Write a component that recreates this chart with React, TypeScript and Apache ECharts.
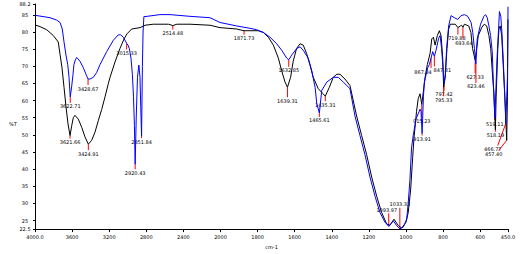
import { useEffect, useRef } from "react";
import * as echarts from "echarts";

// Wavenumbers (cm-1) and %T
const blueWn = [4000,3838,3766,3730,3706,3687,3666,3647,3633,3627,3620,3605,3590,3580,3565,3550,3515,3479,3443,3428,3407,3371,3335,3299,3227,3156,3102,3076,3048,3019,3012,2997,2983,2965,2950,2938,2928,2920,2908,2895,2880,2868,2860,2851,2842,2835,2826,2792,2652,2544,2329,2113,2005,1913,1841,1805,1769,1733,1697,1670,1643,1632,1616,1589,1571,1554,1527,1508,1490,1481,1467,1454,1427,1392,1365,1338,1302,1275,1248,1221,1194,1167,1140,1113,1093,1068,1050,1033,1014,996,988,979,970,961,946,924,919,913,906,901,883,874,865,856,847,838,824,816,808,799,795,788,781,770,757,739,721,703,685,667,649,640,631,623,616,598,580,571,562,553,544,535,528,521,509,496,489,483,476,465,462,453,450];
const blueT = [84.9,84.2,83.5,82.8,80.9,77.1,73.3,70.5,66.8,64.0,61.1,64.0,67.7,70.5,71.9,72.6,71.5,69.6,67.2,66.3,66.3,66.8,68.2,70.5,74.3,77.6,79.2,79.2,78.5,77.1,76.7,76.2,75.2,72.4,67.7,61.1,52.7,41.4,55.5,66.8,70.4,66.8,58.3,49.6,70.0,80.0,84.5,84.6,85.1,85.1,84.6,84.2,82.8,81.8,81.1,80.7,79.9,78.5,76.6,74.7,72.4,71.9,73.3,75.2,75.7,74.7,72.4,68.7,63.9,59.2,56.4,63.0,65.4,66.8,66.8,65.4,63.5,55.5,49.8,44.2,37.7,32.1,27.3,24.5,23.3,24.9,23.5,22.6,23.1,25.4,30.1,36.7,46.2,49.8,54.6,57.5,56.9,50.4,61.1,65.4,69.6,70.5,72.4,74.3,72.9,74.7,78.2,79.0,75.2,68.7,64.9,66.8,75.2,81.8,84.8,84.2,83.7,84.8,85.1,84.6,82.8,79.9,75.2,70.7,78.0,82.3,84.6,85.1,84.2,81.8,79.0,74.3,63.9,54.9,72.4,86.0,84.6,80.0,72.4,58.3,53.3,66.8,87.4];

const blackWn = [4000,3946,3874,3803,3749,3730,3709,3687,3666,3644,3622,3604,3587,3569,3533,3496,3461,3425,3389,3353,3318,3281,3245,3210,3191,3137,3084,3040,3008,2957,2868,2814,2724,2560,2514,2470,2329,2113,2005,1913,1873,1841,1797,1769,1742,1715,1688,1670,1652,1639,1622,1608,1590,1571,1554,1536,1518,1500,1473,1449,1435,1413,1392,1373,1356,1329,1302,1266,1239,1212,1185,1158,1131,1104,1086,1065,1041,1023,1000,988,975,964,957,943,934,924,915,907,897,885,870,861,852,843,831,820,811,802,797,788,779,770,761,734,720,707,700,693,685,662,650,641,627,619,610,592,578,565,553,543,535,526,518,514,505,499,492,484,476,467,457,453,450];
const blackT = [82.1,81.6,80.7,79.0,77.1,73.5,69.6,63.9,58.3,53.2,49.8,52.7,55.0,55.7,54.6,52.2,49.4,47.3,48.4,50.8,54.1,57.4,61.1,64.9,66.8,71.3,75.2,78.0,79.5,80.9,81.3,82.0,82.3,82.3,81.9,82.3,82.3,82.0,81.3,80.9,80.4,80.4,80.4,79.9,78.5,76.2,72.4,68.7,65.4,63.9,66.8,71.5,75.2,76.6,76.2,73.8,70.5,66.8,63.5,62.1,61.3,63.9,66.8,67.7,67.7,66.3,64.4,55.5,49.8,44.2,37.7,32.1,27.3,24.0,23.6,25.4,23.5,22.8,24.5,27.3,33.9,43.4,49.0,56.9,60.6,62.0,58.9,62.3,66.8,70.5,73.8,78.0,78.5,76.2,79.0,80.4,79.0,72.4,63.9,67.7,75.2,80.9,82.3,82.3,81.3,81.8,82.0,81.4,82.3,81.8,79.9,75.2,71.8,75.2,79.0,81.3,82.3,81.8,79.0,75.2,68.7,62.1,51.5,61.1,75.2,80.9,81.8,79.0,70.5,61.1,48.4,61.1,83.7];

// Peak annotations
const peakWn = [3620,3428,3012,2920,2851,1632,1467,1093,1033,913,865,847,795,623,521,462,3622,3425,2514,1873,1639,1435,915,797,720,693,627,518,457];
const peakT = [61.1,66.3,76.7,41.4,49.6,71.9,56.4,23.3,22.6,50.4,72.4,72.9,64.9,70.7,54.9,53.3,49.8,47.3,81.9,80.4,63.9,61.3,58.9,63.9,81.3,81.4,71.8,51.5,48.4];
const peakText = ["3622.71","3428.67","3015.33","2920.43","2851.84","1632.85","1465.61","1093.97","1033.33","913.91","867.34","847.81","797.42","623.46","519.11","466.77","3621.66","3424.91","2514.48","1871.73","1639.31","1435.31","915.23","795.33","719.88","693.64","627.33","518.19","457.40"];

// Axis tick wavenumbers (scale changes at 2000 cm-1)
const xTickWn = [4000,3600,3200,2800,2400,2000,1800,1600,1400,1200,1000,800,600,450];
const yMin = 22.5;
const yMax = 88.2;

// layout only: leader line end offsets and extra text offsets, in px
const leader: number[][] = [[0,6],[0,6],[0,6],[0,5],[0,2],[0,7],[0,4],[0,-13],[0,-21],[0,2],[0,10],[0,10],[0,7],[0,19],[0,2],[-8,22],[0,3],[0,6],[0,4],[0,4],[0,10],[0,5],[0,13],[0,9],[0,7],[0,11],[0,13],[0,2],[-8,10]];
const textShift: number[][] = [[0,0],[0,0],[0,0],[0,0],[0,0],[0,0],[0,0],[-2,0],[0,0],[0,0],[-8,0],[8,0],[0,0],[0,0],[0,0],[-5,0],[0,0],[0,0],[0,0],[0,0],[0,0],[0,0],[0,0],[0,0],[-1,0],[1,1],[0,0],[0,0],[-5,0]];

const toPos = (w: number) => (w >= 2000 ? (4000 - w) / 400 : 5 + (2000 - w) / 200);
const fromPos = (p: number) => (p <= 5 ? 4000 - 400 * p : 2000 - 200 * (p - 5));
const xMax = toPos(xTickWn[xTickWn.length - 1]);

const FONT = "DejaVu Sans";

export default function App() {
  const ref = useRef<HTMLDivElement>(null);
  useEffect(() => {
    if (!ref.current) return;
    const chart = echarts.init(ref.current, undefined, { renderer: "svg" });
    const blue = blueWn.map((w, i) => [toPos(w), blueT[i]]);
    const black = blackWn.map((w, i) => [toPos(w), blackT[i]]);
    const peaks = peakWn.map((w, i) => [toPos(w), peakT[i]]);
    chart.setOption({
      animation: false,
      backgroundColor: "#ffffff",
      grid: { left: 35, right: 16, top: 4, bottom: 17 },
      xAxis: {
        type: "value",
        min: 0,
        max: xMax,
        interval: 1,
        name: "cm-1",
        nameLocation: "middle",
        nameGap: 11,
        nameTextStyle: { fontSize: 5, fontFamily: FONT, color: "#000" },
        axisLine: { lineStyle: { color: "#000", width: 1 } },
        axisTick: { length: 3, lineStyle: { color: "#000" } },
        splitLine: { show: false },
        axisLabel: {
          fontSize: 5,
          fontFamily: FONT,
          color: "#000",
          margin: 5,
          showMinLabel: true,
          showMaxLabel: true,
          formatter: (v: number) => {
            const w = fromPos(v);
            if (v === 0 || Math.abs(v - xMax) < 1e-6) return w.toFixed(1);
            return String(Math.round(w));
          },
        },
      },
      yAxis: {
        type: "value",
        min: yMin,
        max: yMax,
        splitNumber: 13,
        axisLine: { show: true, lineStyle: { color: "#000", width: 1 } },
        axisTick: { show: true, length: 2, lineStyle: { color: "#000" } },
        splitLine: { show: false },
        axisLabel: {
          fontSize: 5,
          fontFamily: FONT,
          color: "#000",
          margin: 10,
          align: "center",
          showMinLabel: true,
          showMaxLabel: true,
          formatter: (v: number) =>
            Math.abs(v - yMin) < 1e-6 || Math.abs(v - yMax) < 1e-6 ? v.toFixed(1) : String(Math.round(v)),
        },
      },
      graphic: [
        {
          type: "text",
          x: 13,
          y: 124,
          style: { text: "%T", fontSize: 5, fontFamily: FONT, fill: "#000", align: "center", verticalAlign: "middle" },
        },
      ],
      series: [
        {
          type: "custom",
          data: peaks,
          z: 1,
          renderItem: (params: any, api: any) => {
            const i = params.dataIndex;
            const p = api.coord([api.value(0), api.value(1)]);
            const [dx, dy] = leader[i];
            const [sx, sy] = textShift[i];
            const ex = p[0] + dx;
            const ey = p[1] + dy;
            const down = dy >= 0;
            return {
              type: "group",
              children: [
                {
                  type: "line",
                  shape: { x1: p[0], y1: p[1], x2: ex, y2: ey },
                  style: { stroke: "#ff0000", lineWidth: 1 },
                },
                {
                  type: "text",
                  x: ex + sx,
                  y: (down ? ey + 1 : ey - 1) + sy,
                  style: {
                    text: peakText[i],
                    fontSize: 5,
                    fontFamily: FONT,
                    fill: "#000",
                    align: "center",
                    verticalAlign: down ? "top" : "bottom",
                  },
                },
              ],
            };
          },
        },
        {
          type: "line",
          data: black,
          showSymbol: false,
          z: 2,
          lineStyle: { color: "#000000", width: 1 },
          itemStyle: { color: "#000000" },
        },
        {
          type: "line",
          data: blue,
          showSymbol: false,
          z: 3,
          lineStyle: { color: "#0000ff", width: 1 },
          itemStyle: { color: "#0000ff" },
        },
      ],
    });
    return () => chart.dispose();
  }, []);
  return (
    <div
      ref={ref}
      style={{ position: "fixed", left: 0, top: 0, width: 524, height: 254, background: "#fff" }}
    />
  );
}
